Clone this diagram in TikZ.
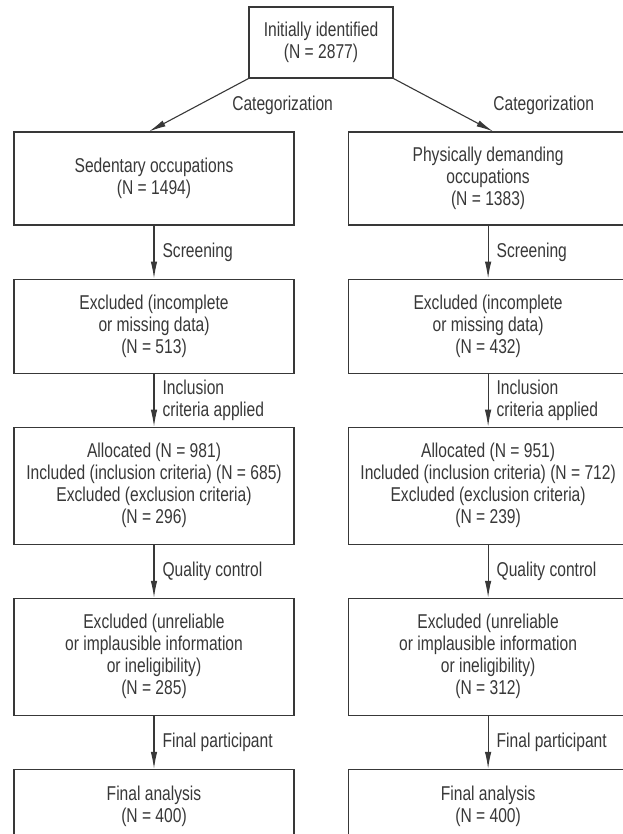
\documentclass[tikz,border=0pt]{standalone}
\usepackage{fontspec}
\setmainfont{Liberation Sans}[FakeStretch=0.78]
\usepackage{xcolor}
\usetikzlibrary{positioning,arrows.meta}

\definecolor{inkgray}{gray}{0.22}

\begin{document}
\begin{tikzpicture}[x=1pt,y=1pt,->,>={Latex[length=17pt,width=6.5pt]},line width=1.1pt,
    draw=inkgray,text=inkgray,node distance=53pt,
    font=\fontsize{20}{22}\selectfont,
    base/.style={rectangle,draw=inkgray,line width=1.1pt,minimum width=280pt,align=center,inner sep=2pt},
    lbl/.style={right,align=left,inner sep=0pt,xshift=8pt}]

    \useasboundingbox (0,0) rectangle (622,-834);

    % top
    \node[base, minimum width=144pt, minimum height=71pt] (0) at (321,-42.5)
    {
        Initially identified\\(N = 2877)
    };

    % sedentary column
    \node[base, minimum height=93pt] (1) at (154,-178.5)
    {
        Sedentary occupations\\(N = 1494)
    };
    \node[base, minimum height=94pt, below=of 1] (2)
    {
        Excluded (incomplete\\or missing data)\\(N = 513)
    };
    \node[base, minimum height=117pt, below=of 2] (3)
    {
        Allocated (N = 981)\\Included (inclusion criteria) (N = 685)\\Excluded (exclusion criteria)\\(N = 296)
    };
    \node[base, minimum height=117pt, below=of 3] (4)
    {
        Excluded (unreliable\\or implausible information\\or ineligibility)\\(N = 285)
    };
    \node[base, minimum height=74pt, below=of 4] (5)
    {
        Final analysis\\(N = 400)
    };

    % physically demanding column
    \node[base, minimum height=93pt, right=of 1] (6)
    {
        Physically demanding\\occupations\\(N = 1383)
    };
    \node[base, minimum height=94pt, right=of 2] (7)
    {
        Excluded (incomplete\\or missing data)\\(N = 432)
    };
    \node[base, minimum height=117pt, right=of 3] (8)
    {
        Allocated (N = 951)\\Included (inclusion criteria) (N = 712)\\Excluded (exclusion criteria)\\(N = 239)
    };
    \node[base, minimum height=117pt, right=of 4] (9)
    {
        Excluded (unreliable\\or implausible information\\or ineligibility)\\(N = 312)
    };
    \node[base, minimum height=74pt, right=of 5] (10)
    {
        Final analysis\\(N = 400)
    };

    \path[]
    {
        (0.south west) edge node[lbl, xshift=25pt] {Categorization} ([xshift=-5pt]1.north)
        (0.south east) edge node[lbl, xshift=41.5pt] {Categorization} ([xshift=5pt]6.north)
        (1) edge node[lbl] {Screening} (2)
        (2) edge node[lbl] {Inclusion\\criteria applied} (3)
        (3) edge node[lbl] {Quality control} (4)
        (4) edge node[lbl] {Final participant} (5)
        (6) edge node[lbl] {Screening} (7)
        (7) edge node[lbl] {Inclusion\\criteria applied} (8)
        (8) edge node[lbl] {Quality control} (9)
        (9) edge node[lbl] {Final participant} (10)
    };
\end{tikzpicture}
\end{document}
